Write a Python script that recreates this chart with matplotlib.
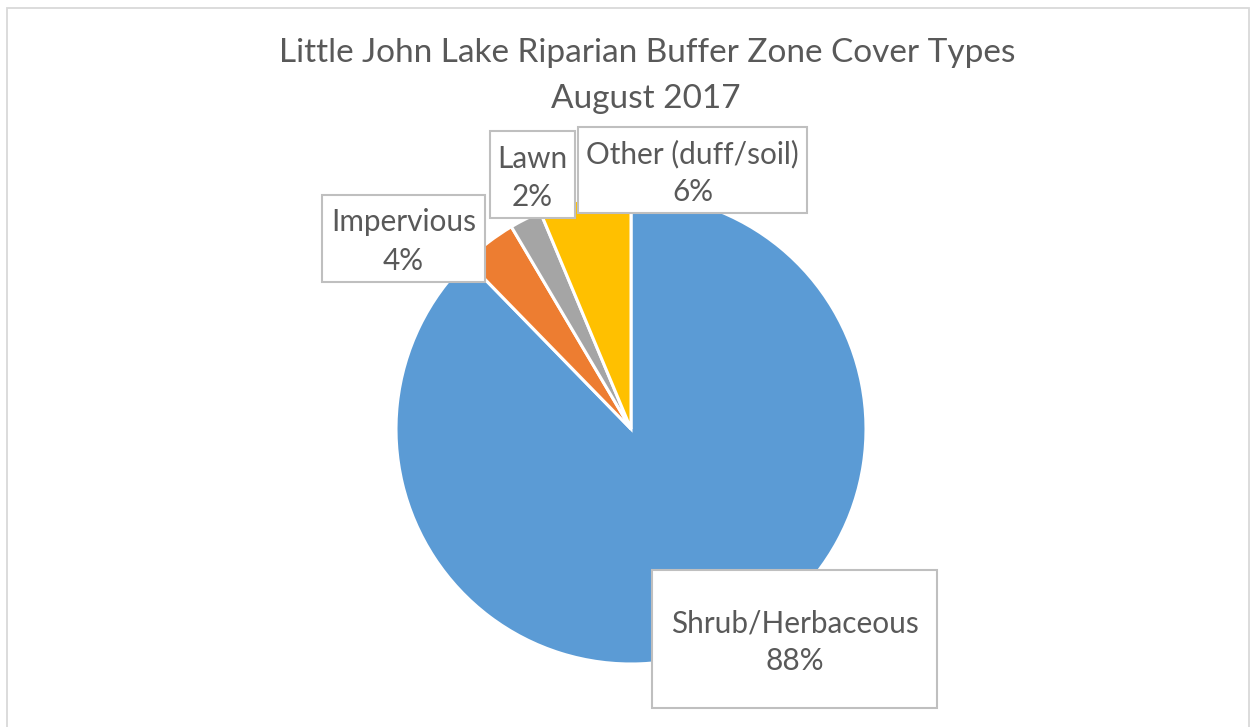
import matplotlib
matplotlib.use("Agg")
import matplotlib.pyplot as plt
from matplotlib.patches import Rectangle

# cover type shares (labels show the rounded values)
cover_types = ["Shrub/Herbaceous", "Impervious", "Lawn", "Other (duff/soil)"]
shares = [87.7, 3.8, 2.2, 6.3]
pct_labels = ["88%", "4%", "2%", "6%"]
colors = ["#5B9BD5", "#ED7D31", "#A5A5A5", "#FFC000"]

W, H = 1252, 727
fig = plt.figure(figsize=(W / 100, H / 100), dpi=100)
ax = fig.add_axes([0, 0, 1, 1])

txt_color = "#595959"
font = "Lato"

# chart frame
ax.add_patch(Rectangle((7, -5), 1242, H - 8 + 5, fill=False,
                       edgecolor="#D9D9D9", linewidth=1.3))

ax.pie(shares, colors=colors, startangle=90, counterclock=False,
       center=(631, H - 429), radius=235, frame=True,
       wedgeprops=dict(edgecolor="white", linewidth=2.2))
ax.set_xlim(0, W)
ax.set_ylim(0, H)
ax.set_aspect("equal")
ax.axis("off")

# title
ax.text(647, H - 62, "Little John Lake Riparian Buffer Zone Cover Types",
        ha="center", va="baseline", fontsize=24, color=txt_color, family=font)
ax.text(646, H - 108, "August 2017", ha="center", va="baseline",
        fontsize=24, color=txt_color, family=font)

# data label boxes (x0, y0 top, x1, y1 bottom) in pixels
boxes = {
    "Shrub/Herbaceous": (652, 570, 937, 708),
    "Impervious": (322, 195, 485, 282),
    "Lawn": (490, 131, 575, 218),
    "Other (duff/soil)": (578, 127, 807, 213),
}
for name, pct in zip(cover_types, pct_labels):
    x0, y0, x1, y1 = boxes[name]
    ax.add_patch(Rectangle((x0, H - y1), x1 - x0, y1 - y0, facecolor="white",
                           edgecolor="#BFBFBF", linewidth=1.5, zorder=5))
    cx = (x0 + x1) / 2
    cy = (y0 + y1) / 2
    ax.text(cx, H - (cy - 7), name, ha="center", va="baseline",
            fontsize=21.4, color=txt_color, family=font, zorder=6)
    ax.text(cx, H - (cy + 31), pct, ha="center", va="baseline",
            fontsize=21.4, color=txt_color, family=font, zorder=6)

fig.savefig("out.png", dpi=100)
